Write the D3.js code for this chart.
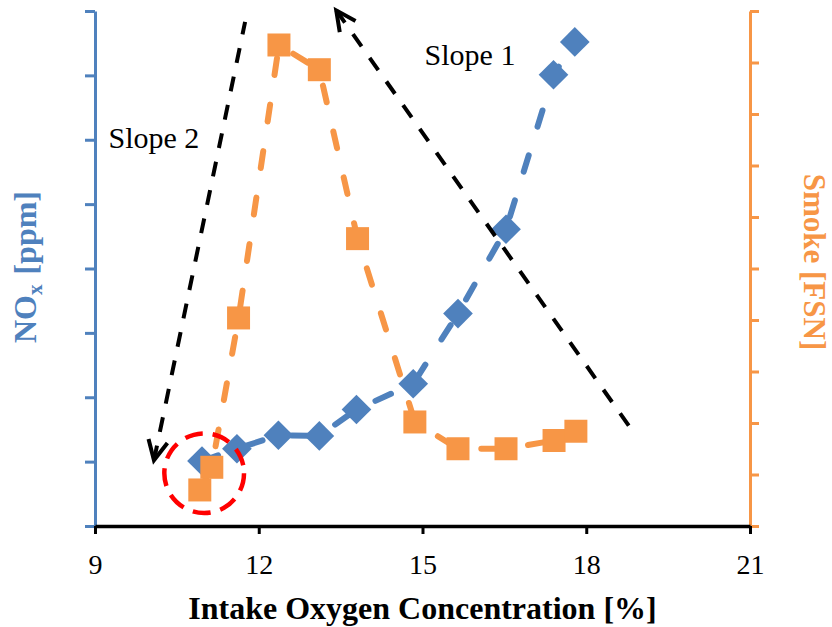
<!DOCTYPE html>
<html>
<head>
<meta charset="utf-8">
<script src="https://cdn.jsdelivr.net/npm/d3@7"></script>
<style>
  html, body { margin: 0; padding: 0; background: #ffffff; }
</style>
</head>
<body>
<script>
// Intake oxygen concentration sweep: NOx (left axis) and smoke (right axis)
const noxO2 = [10.96, 11.60, 12.36, 13.11, 13.79, 14.83, 15.65, 16.53, 17.40, 17.79];
const noxPpm = [101, 120, 141, 140, 181, 221, 330, 461, 701, 752];

const smokeO2 = [10.92, 11.14, 11.63, 12.37, 13.11, 13.81, 14.86, 15.65, 16.53, 17.41, 17.81];
const smokeFsn = [0.35, 0.57, 2.02, 4.67, 4.43, 2.79, 1.01, 0.75, 0.75, 0.83, 0.92];

const xTicks = [9, 12, 15, 18, 21];
const xTickLabels = ["9", "12", "15", "18", "21"];
const noxTicks = [0, 100, 200, 300, 400, 500, 600, 700, 800];
const smokeTicks = [0, 0.5, 1, 1.5, 2, 2.5, 3, 3.5, 4, 4.5, 5];

// Trend annotations, in (O2 %, NOx ppm) coordinates
const slopeNames = ["Slope 1", "Slope 2"];
const slopeTails = [[18.86, 146], [11.75, 783]];
const slopeTips = [[13.42, 801], [10.08, 102]];
const slopeLabelAt = [[15.87, 716], [10.08, 587]];
const lowOxygenCircle = [11.0, 82]; // centre of the highlighted low-O2 region
const lowOxygenRadius = 0.73;        // in O2 %

const blue = "#4F81BD", orange = "#F79646";
const serif = '"Liberation Serif"';

const W = 832, H = 627;
const svg = d3.select("body").append("svg").attr("width", W).attr("height", H);
svg.append("rect").attr("width", W).attr("height", H).attr("fill", "#fff");

const x = d3.scaleLinear().domain([9, 21]).range([95, 750]);
const yNox = d3.scaleLinear().domain([0, 800]).range([526, 11]);
const ySmoke = d3.scaleLinear().domain([0, 5]).range([526, 11]);

// Left axis (NOx)
const gL = svg.append("g").attr("transform", `translate(${x(9)},0)`)
  .call(d3.axisLeft(yNox).tickValues(noxTicks).tickSize(10).tickSizeOuter(0).tickFormat(""));
gL.select(".domain").attr("stroke", blue).attr("stroke-width", 3);
gL.selectAll(".tick line").attr("stroke", blue).attr("stroke-width", 3);

// Right axis (smoke)
const gR = svg.append("g").attr("transform", `translate(${x(21)},0)`)
  .call(d3.axisRight(ySmoke).tickValues(smokeTicks).tickSize(9).tickSizeOuter(0).tickFormat(""));
gR.select(".domain").attr("stroke", orange).attr("stroke-width", 3);
gR.selectAll(".tick line").attr("stroke", orange).attr("stroke-width", 3);

// Bottom axis
const gB = svg.append("g").attr("transform", `translate(0,${yNox(0)})`)
  .call(d3.axisBottom(x).tickValues(xTicks).tickSize(8).tickSizeOuter(0)
    .tickFormat((d, i) => xTickLabels[i]));
gB.attr("font-family", null).attr("font-size", null);
gB.select(".domain").attr("stroke", "#000").attr("stroke-width", 3.5);
gB.selectAll(".tick line").attr("stroke", "#000").attr("stroke-width", 3);
gB.selectAll(".tick text")
  .attr("y", 48).attr("dy", 0)
  .attr("fill", "#000")
  .style("font-family", serif)
  .style("font-size", "28px");

// Axis titles
svg.append("text")
  .attr("x", (x(9) + x(21)) / 2).attr("y", 619)
  .attr("text-anchor", "middle")
  .style("font-family", serif)
  .style("font-size", "32px").style("font-weight", "bold")
  .attr("fill", "#000")
  .text("Intake Oxygen Concentration [%]");

const noxTitle = svg.append("text")
  .attr("transform", "translate(36,267) rotate(-90)")
  .attr("text-anchor", "middle")
  .style("font-family", serif)
  .style("font-size", "32px").style("font-weight", "bold")
  .attr("fill", blue);
noxTitle.append("tspan").text("NO");
noxTitle.append("tspan").attr("dy", 6).style("font-size", "21px").text("x");
noxTitle.append("tspan").attr("dy", -6).attr("dx", 10).text("[ppm]");

svg.append("text")
  .attr("transform", "translate(804,262) rotate(90)")
  .attr("text-anchor", "middle")
  .style("font-family", serif)
  .style("font-size", "31px").style("font-weight", "bold")
  .attr("fill", orange)
  .text("Smoke [FSN]");

// NOx series
const noxPts = noxO2.map((d, i) => [x(d), yNox(noxPpm[i])]);
svg.append("path")
  .attr("d", d3.line()(noxPts))
  .attr("fill", "none").attr("stroke", blue).attr("stroke-width", 6)
  .attr("stroke-linecap", "round").attr("stroke-dasharray", "17,30");
svg.append("g").selectAll("path").data(noxPts).join("path")
  .attr("transform", d => `translate(${d[0]},${d[1]}) rotate(45)`)
  .attr("d", d3.symbol(d3.symbolSquare, 21 * 21)())
  .attr("fill", blue);

// Smoke series
const smokePts = smokeO2.map((d, i) => [x(d), ySmoke(smokeFsn[i])]);
svg.append("path")
  .attr("d", d3.line()(smokePts))
  .attr("fill", "none").attr("stroke", orange).attr("stroke-width", 6)
  .attr("stroke-linecap", "round").attr("stroke-dasharray", "17,30");
svg.append("g").selectAll("path").data(smokePts).join("path")
  .attr("transform", d => `translate(${d[0]},${d[1]})`)
  .attr("d", d3.symbol(d3.symbolSquare, 23 * 23)())
  .attr("fill", orange);

// Slope arrows: dashed shaft with open arrowhead at the tip
slopeNames.forEach((name, i) => {
  const tip = [x(slopeTips[i][0]), yNox(slopeTips[i][1])];
  const tail = [x(slopeTails[i][0]), yNox(slopeTails[i][1])];
  svg.append("path")
    .attr("d", d3.line()([tip, tail]))
    .attr("fill", "none").attr("stroke", "#000").attr("stroke-width", 4)
    .attr("stroke-dasharray", "15,14");
  const ang = Math.atan2(tail[1] - tip[1], tail[0] - tip[0]);
  const len = 22, spread = 26 * Math.PI / 180;
  const a1 = [tip[0] + len * Math.cos(ang - spread), tip[1] + len * Math.sin(ang - spread)];
  const a2 = [tip[0] + len * Math.cos(ang + spread), tip[1] + len * Math.sin(ang + spread)];
  svg.append("path")
    .attr("d", d3.line()([a1, tip, a2]))
    .attr("fill", "none").attr("stroke", "#000").attr("stroke-width", 4)
    .attr("stroke-linejoin", "miter");
  svg.append("text")
    .attr("x", x(slopeLabelAt[i][0])).attr("y", yNox(slopeLabelAt[i][1]))
    .attr("text-anchor", "middle")
    .style("font-family", serif)
    .style("font-size", "30px")
    .attr("fill", "#000")
    .text(name);
});

// Highlighted low-oxygen region
svg.append("circle")
  .attr("cx", x(lowOxygenCircle[0])).attr("cy", yNox(lowOxygenCircle[1]))
  .attr("r", x(lowOxygenCircle[0] + lowOxygenRadius) - x(lowOxygenCircle[0]))
  .attr("fill", "none").attr("stroke", "#FF0000").attr("stroke-width", 4.5)
  .attr("stroke-dasharray", "18,10");
</script>
</body>
</html>
